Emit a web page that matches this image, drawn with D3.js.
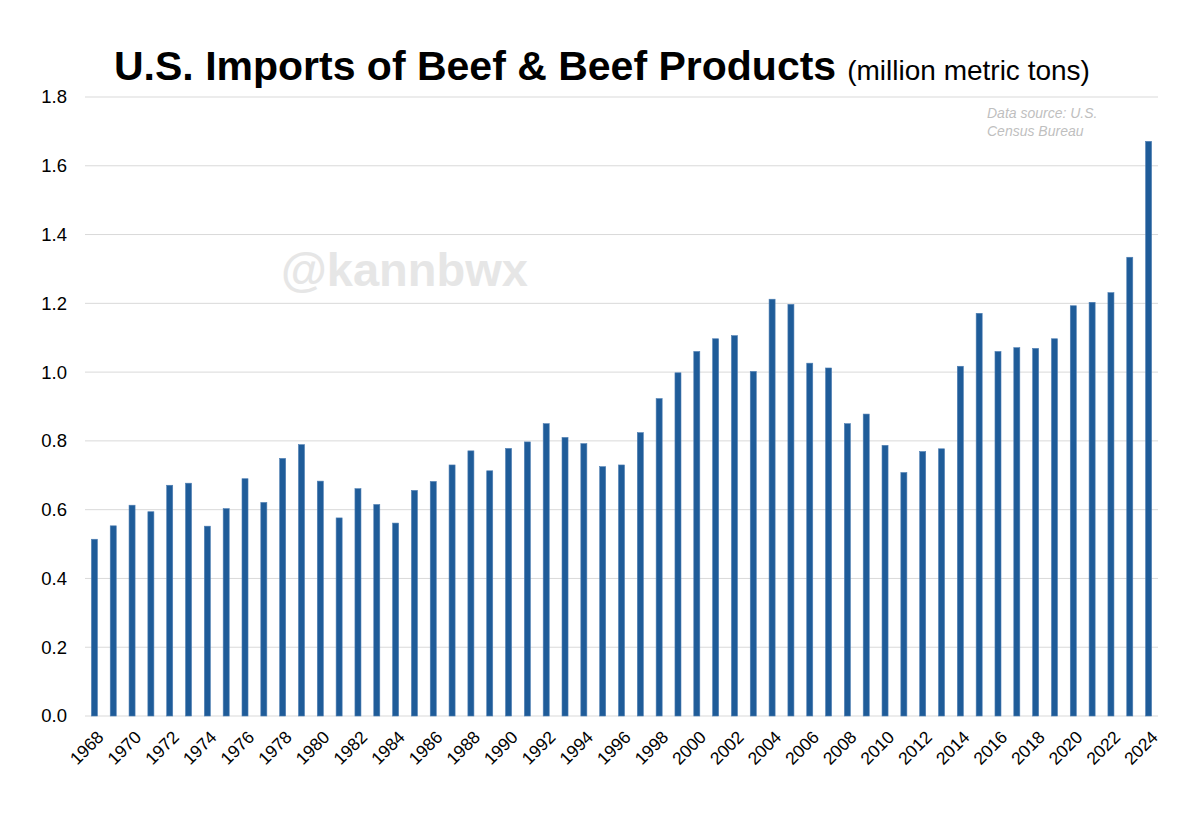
<!DOCTYPE html>
<html>
<head>
<meta charset="utf-8">
<script src="https://cdn.jsdelivr.net/npm/d3@7"></script>
<style>
  body { margin: 0; background: #fff; }
  svg { display: block; }
</style>
</head>
<body>
<div id="chart"></div>
<script>
// Data (million metric tons)
const years = d3.range(1968, 2025);
const imports = [
  0.514, 0.553, 0.613, 0.594, 0.671, 0.677, 0.552, 0.603, 0.690, 0.621,
  0.749, 0.789, 0.683, 0.576, 0.661, 0.615, 0.561, 0.656, 0.682, 0.730,
  0.771, 0.713, 0.778, 0.797, 0.850, 0.810, 0.792, 0.725, 0.730, 0.824,
  0.923, 0.998, 1.060, 1.097, 1.106, 1.002, 1.212, 1.197, 1.026, 1.012,
  0.850, 0.878, 0.787, 0.708, 0.769, 0.777, 1.017, 1.171, 1.060, 1.071,
  1.069, 1.097, 1.193, 1.203, 1.231, 1.334, 1.671
];
const yTicks = [0, 0.2, 0.4, 0.6, 0.8, 1.0, 1.2, 1.4, 1.6, 1.8];

const W = 1200, H = 818;
const M = { top: 97, right: 42, bottom: 102, left: 85 };
const FONT = 'Liberation Sans, Arial, Helvetica, sans-serif';

const svg = d3.select('#chart').append('svg')
  .attr('width', W).attr('height', H)
  .attr('viewBox', `0 0 ${W} ${H}`);

const x = d3.scaleBand()
  .domain(years)
  .range([M.left, W - M.right])
  .paddingInner(0.68)
  .paddingOuter(0.34);

const y = d3.scaleLinear()
  .domain([0, 1.8])
  .range([H - M.bottom, M.top]);

// Gridlines
svg.append('g')
  .selectAll('line')
  .data(yTicks)
  .join('line')
  .attr('x1', M.left).attr('x2', W - M.right)
  .attr('y1', d => y(d)).attr('y2', d => y(d))
  .attr('stroke', '#d9d9d9')
  .attr('stroke-width', 1);

// Y tick labels
svg.append('g')
  .selectAll('text')
  .data(yTicks)
  .join('text')
  .attr('x', 67)
  .attr('y', d => y(d))
  .attr('dy', '0.35em')
  .attr('text-anchor', 'end')
  .attr('font-family', FONT)
  .attr('font-size', 18.5)
  .attr('fill', '#000')
  .text(d => d3.format('.1f')(d));

// Watermark
svg.append('text')
  .attr('x', 281).attr('y', 286)
  .attr('font-family', FONT)
  .attr('font-size', 47)
  .attr('font-weight', 'bold')
  .attr('fill', '#e6e6e6')
  .text('@kannbwx');

// Bars
svg.append('g')
  .selectAll('rect')
  .data(years)
  .join('rect')
  .attr('x', d => x(d))
  .attr('width', x.bandwidth())
  .attr('y', (d, i) => y(imports[i]))
  .attr('height', (d, i) => y(0) - y(imports[i]))
  .attr('fill', '#1f5c99')
  .attr('stroke', '#4f7fb3')
  .attr('stroke-width', 0.6);

// X tick labels, every other year, rotated
svg.append('g')
  .selectAll('text')
  .data(years.filter(d => d % 2 === 0))
  .join('text')
  .attr('transform', d => `translate(${x(d) + x.bandwidth() / 2 + 6},${y(0) + 18}) rotate(-45)`)
  .attr('text-anchor', 'end')
  .attr('dy', '0.35em')
  .attr('font-family', FONT)
  .attr('font-size', 17.5)
  .attr('fill', '#000')
  .text(d => d);

// Title
const title = svg.append('text')
  .attr('x', 114).attr('y', 80)
  .attr('font-family', FONT)
  .attr('fill', '#000');
title.append('tspan')
  .attr('font-size', 41)
  .attr('font-weight', 'bold')
  .text('U.S. Imports of Beef & Beef Products');
title.append('tspan')
  .attr('font-size', 28)
  .attr('dx', 11)
  .text('(million metric tons)');

// Source note
svg.append('g')
  .selectAll('text')
  .data(['Data source: U.S.', 'Census Bureau'])
  .join('text')
  .attr('x', 987)
  .attr('y', (d, i) => 118 + i * 18)
  .attr('font-family', FONT)
  .attr('font-size', 14)
  .attr('font-style', 'italic')
  .attr('fill', '#bfbfbf')
  .text(d => d);
</script>
</body>
</html>
